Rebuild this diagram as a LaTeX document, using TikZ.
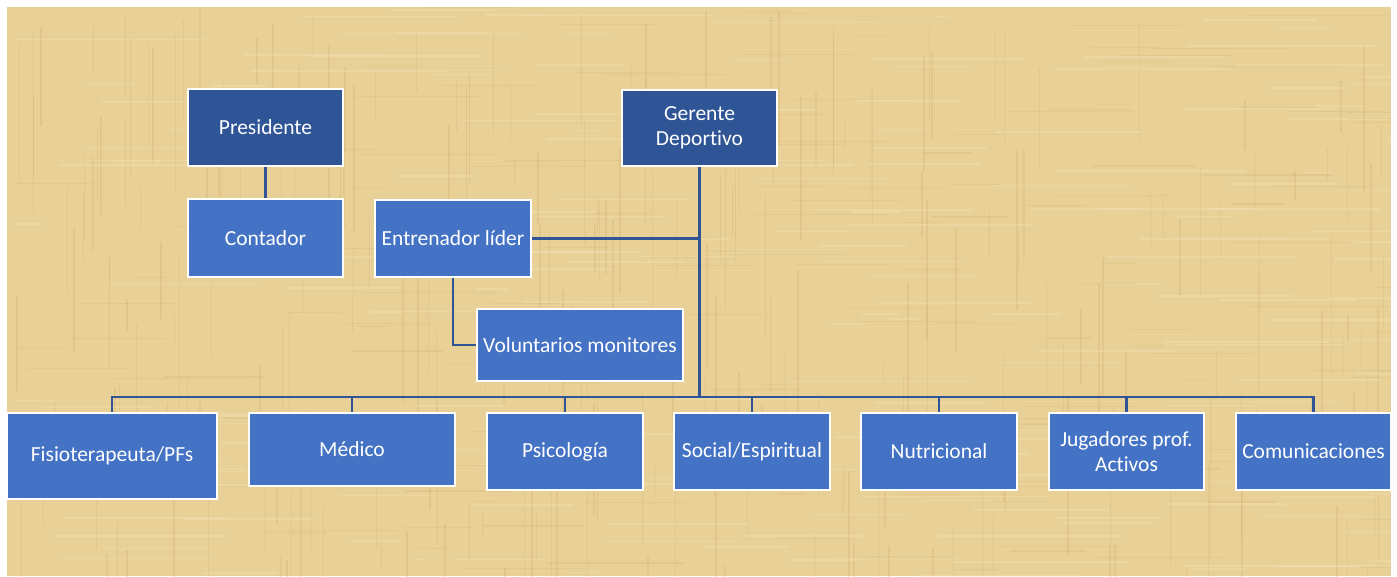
\documentclass[tikz,border=0pt]{standalone}
\usepackage{fontspec}
\setmainfont{Carlito}[RawFeature={-liga}]
\definecolor{bgtan}{RGB}{232,208,150}
\definecolor{texdark}{RGB}{205,175,110}
\definecolor{texlight}{RGB}{245,228,185}
\definecolor{darkbox}{RGB}{47,85,151}
\definecolor{midbox}{RGB}{68,114,196}
\definecolor{linecol}{RGB}{47,85,151}
\tikzset{
  orgbox/.style={draw=white, line width=2.5pt, text=white, align=center, inner sep=0pt,
    font=\fontsize{21.5}{24.5}\selectfont},
  topbox/.style={orgbox, fill=darkbox},
  subbox/.style={orgbox, fill=midbox},
  conn/.style={draw=linecol, line width=2.8pt}
}
\begin{document}
\begin{tikzpicture}[x=1pt,y=-1pt]
\useasboundingbox (0,0) rectangle (1397,577);
\fill[white] (0,0) rectangle (1397,577);
% parchment background
\begin{scope}
\clip (7,7) rectangle (1391,576);
\fill[bgtan] (7,7) rectangle (1391,576);
\pgfmathsetseed{42}
\foreach \i in {1,...,260}{
  \pgfmathsetmacro\xx{7+1384*rnd}
  \pgfmathsetmacro\yy{7+569*rnd}
  \pgfmathsetmacro\ll{20+140*rnd}
  \draw[texdark, line width=1.4pt, opacity=0.28] (\xx,\yy) -- ++(0,\ll);
}
\foreach \i in {1,...,200}{
  \pgfmathsetmacro\xx{7+1384*rnd}
  \pgfmathsetmacro\yy{7+569*rnd}
  \pgfmathsetmacro\ll{30+160*rnd}
  \draw[texlight, line width=1.6pt, opacity=0.35] (\xx,\yy) -- ++(\ll,0);
}
\foreach \i in {1,...,160}{
  \pgfmathsetmacro\xx{7+1384*rnd}
  \pgfmathsetmacro\yy{7+569*rnd}
  \pgfmathsetmacro\ll{20+120*rnd}
  \draw[texdark, line width=1.2pt, opacity=0.22] (\xx,\yy) -- ++(\ll,0);
}
\end{scope}

% nodes
\node[topbox, minimum width=155pt, minimum height=77pt] (pres) at (265.5,127.5) {Presidente};
\node[subbox, minimum width=155pt, minimum height=78pt] (cont) at (265.5,238) {Contador};
\node[topbox, minimum width=155pt, minimum height=76pt] (ger) at (699.5,128) {Gerente\\Deportivo};
\node[subbox, minimum width=156pt, minimum height=77pt] (ent) at (453,238.5) {Entrenador líder};
\node[subbox, minimum width=206pt, minimum height=72pt] (vol) at (580,345) {Voluntarios monitores};
\node[subbox, minimum width=210pt, minimum height=86pt] (fis) at (112,456) {Fisioterapeuta/PFs};
\node[subbox, minimum width=206pt, minimum height=73pt] (med) at (352,449.5) {Médico};
\node[subbox, minimum width=156pt, minimum height=77pt] (psi) at (565,451.5) {Psicología};
\node[subbox, minimum width=156pt, minimum height=77pt] (soc) at (752,451.5) {Social/Espiritual};
\node[subbox, minimum width=156pt, minimum height=77pt] (nut) at (939,451.5) {Nutricional};
\node[subbox, minimum width=155pt, minimum height=77pt] (jug) at (1126.5,451.5) {Jugadores prof.\\Activos};
\node[subbox, minimum width=155pt, minimum height=77pt] (com) at (1313.5,451.5) {Comunicaciones};

% connectors
\coordinate (bus) at (699.5,397);
\draw[conn] (pres.south) -- (cont.north);
\draw[conn] (ger.south) -- (bus);
\draw[conn] (ent.east) -- (ent.east -| ger.south);
\draw[conn] (ent.south) |- (vol.west);
\foreach \n in {fis,med,psi,soc,nut,jug,com}{
  \draw[conn] (\n.north) |- (bus);
}
\end{tikzpicture}
\end{document}
